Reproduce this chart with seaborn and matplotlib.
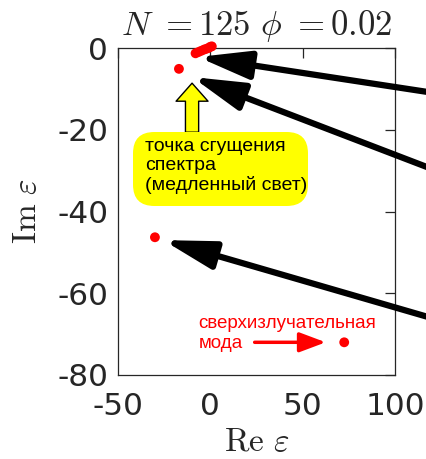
import numpy as np
import pandas as pd
import matplotlib
matplotlib.use("Agg")
import matplotlib.pyplot as plt
import seaborn as sns
from matplotlib.patches import FancyBboxPatch

# Eigenvalues epsilon (Re, Im) for N = 125, phi = 0.02
re_eps = [-8.0, -6.5, -5.0, -3.5, -2.2, -1.0, 0.0, 0.8, -17.0, -30.0, 72.5]
im_eps = [-1.3, -1.0, -0.7, -0.4, -0.2, 0.0, 0.3, 0.4, -5.1, -46.3, -72.0]

x_ticks = [-50, 0, 50, 100]
y_ticks = [-80, -60, -40, -20, 0]

df = pd.DataFrame({"re": re_eps, "im": im_eps})

sns.set_theme(style="white")
plt.rcParams["font.family"] = ["DejaVu Sans"]
plt.rcParams["mathtext.fontset"] = "cm"

W, H = 427, 459
fig = plt.figure(figsize=(W / 100, H / 100), dpi=100)
ax = fig.add_axes([118 / W, 1 - 375 / H, (395 - 118) / W, (375 - 48) / H])

sns.scatterplot(data=df, x="re", y="im", ax=ax, color="#ff0000", s=50,
                edgecolor="none", zorder=5, clip_on=False)

ax.set_xlim(-50, 100)
ax.set_ylim(-80, 0)
ax.set_xticks(x_ticks)
ax.set_yticks(y_ticks)
ax.set_xticklabels([str(v) for v in x_ticks])
ax.set_yticklabels([str(v) for v in y_ticks])
ax.tick_params(direction="in", length=7, width=0.9, color="#262626",
               top=True, right=True, labelsize=22.5, labelcolor="#262626")
ax.tick_params(axis="x", pad=12)
ax.tick_params(axis="y", pad=7)
for s in ax.spines.values():
    s.set_color("#262626")
    s.set_linewidth(0.9)

ax.set_xlabel(r"$\mathrm{Re}\ \varepsilon$", fontsize=24, labelpad=3, color="#262626")
ax.set_ylabel(r"$\mathrm{Im}\ \varepsilon$", fontsize=24, labelpad=10, color="#262626")
ax.set_title(r"$N\ {=}125\ \phi\ {=}0.02$", fontsize=25, pad=9)

# Black pointer arrows coming in from the right edge
black = dict(arrowstyle="-|>,head_length=2.6,head_width=0.7", color="black",
             lw=4.5, mutation_scale=12, shrinkA=0, shrinkB=0)
for tip, tail in [((-6.7, -2.2), (127, -11.4)),
                  ((-9.9, -7.1), (127, -30.8)),
                  ((-25.6, -47.0), (127, -67.0))]:
    ax.annotate("", xy=tip, xytext=tail, arrowprops=black,
                annotation_clip=False, zorder=6)

# Yellow arrow marking the spectrum accumulation point
ax.annotate("", xy=(-9.9, -8.6), xytext=(-9.9, -20.6),
            arrowprops=dict(arrowstyle="simple,head_length=1.3,head_width=2.3,tail_width=0.95",
                            mutation_scale=10, facecolor="#ffff00", edgecolor="black",
                            lw=1.0, shrinkA=0, shrinkB=0), zorder=4)

# Rounded yellow label box
box = FancyBboxPatch((133 / W, 1 - 206 / H), 175 / W, 74 / H,
                     boxstyle="round,pad=0,rounding_size=0.05",
                     mutation_aspect=W / H, transform=fig.transFigure,
                     facecolor="#ffff00", edgecolor="none", zorder=3)
fig.add_artist(box)
fig.text(145 / W, 1 - 166 / H, "точка сгущения\nспектра\n(медленный свет)",
         fontsize=14, family=["Liberation Sans", "DejaVu Sans"], color="black",
         ha="left", va="center", linespacing=1.12, zorder=4)

# Superradiant mode label with red arrow
ax.text(-6.5, -67.3, "сверхизлучательная", color="#ff0000", fontsize=13.5,
        family=["Liberation Sans", "DejaVu Sans"], ha="left", va="center")
ax.text(-6.5, -72.4, "мода", color="#ff0000", fontsize=13.5,
        family=["Liberation Sans", "DejaVu Sans"], ha="left", va="center")
ax.annotate("", xy=(62.5, -72.0), xytext=(24.0, -72.0),
            arrowprops=dict(arrowstyle="-|>,head_length=1.6,head_width=0.6",
                            color="#ff0000", lw=2.5, mutation_scale=10,
                            shrinkA=0, shrinkB=0), zorder=5)

fig.savefig("out.png", dpi=100)
